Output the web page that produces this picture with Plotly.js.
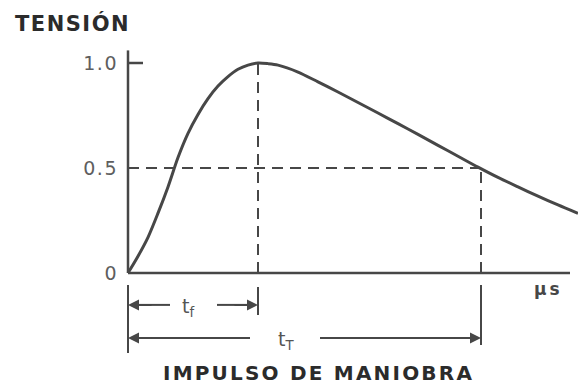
<!DOCTYPE html>
<html>
<head>
<meta charset="utf-8">
<script src="https://cdn.plot.ly/plotly-3.0.1.min.js"></script>
<style>
html,body{margin:0;padding:0;background:#fff;}
#chart{width:578px;height:387px;}
text[data-unformatted="TENSIÓN"]{letter-spacing:1.5px;}
text[data-unformatted="IMPULSO DE MANIOBRA"]{letter-spacing:2.2px;}
text[data-unformatted="µs"]{letter-spacing:3px;}
.ytick text{letter-spacing:1.5px;}
</style>
</head>
<body>
<div id="chart"></div>
<script>
// Switching impulse waveform (normalised voltage vs time, arbitrary µs units)
const timeUs  = [0, 1, 2, 3, 4, 5, 6, 7, 8, 9, 10, 11, 12, 13, 14, 15, 17, 19, 21, 23, 25, 27, 29, 31, 33, 35, 37, 39, 41, 43, 45];
const voltage = [0, 0.08, 0.17, 0.285, 0.41, 0.55, 0.665, 0.755, 0.83, 0.89, 0.935, 0.97, 0.99, 1.0, 0.997, 0.99, 0.957, 0.91, 0.862, 0.812, 0.762, 0.711, 0.66, 0.608, 0.556, 0.504, 0.455, 0.41, 0.366, 0.324, 0.284];

const tickVals   = [0, 0.5, 1.0];
const tickLabels = ['0', '0.5', '1.0'];

const tFront = 13.0;   // time to crest
const tTail  = 35.3;   // time to half value
const halfValue = 0.5;
const crestValue = 1.0;
const xAxisEnd = 44.2;
const yAxisTop = 1.06;

const yLabel = 'TENSIÓN';
const xUnit  = 'µs';
const caption = 'IMPULSO DE MANIOBRA';
const frontLabel = 't<sub>f</sub>';
const tailLabel  = 't<sub>T</sub>';

const ink = '#474747';
const grey = '#555555';

const solid = (x0, y0, x1, y1, w) => ({type:'line', xref:'x', yref:'y', x0, y0, x1, y1,
  line:{color:ink, width:w || 2.5}});
const dashed = (x0, y0, x1, y1) => ({type:'line', xref:'x', yref:'y', x0, y0, x1, y1,
  line:{color:ink, width:2, dash:'11px,7px'}});

const yDimF = -0.152, yDimT = -0.31;

const shapes = [
  solid(0, 0, 0, yAxisTop),
  solid(0, crestValue, 1.5, crestValue),
  solid(0, 0, xAxisEnd, 0),
  dashed(tFront, 0, tFront, crestValue),
  dashed(0, halfValue, tTail, halfValue),
  dashed(tTail, 0, tTail, halfValue),
  solid(0, -0.057, 0, -0.381, 2),
  solid(tFront, -0.067, tFront, -0.2, 2),
  solid(tTail, -0.057, tTail, -0.343, 2),
  solid(1.0, yDimF, 4.2, yDimF, 2),
  solid(8.9, yDimF, 12.0, yDimF, 2),
  solid(1.0, yDimT, 12.2, yDimT, 2),
  solid(19.2, yDimT, 34.3, yDimT, 2)
];

const arrow = (xh, yh, xt) => ({x:xh, y:yh, ax:xt, ay:yh, xref:'x', yref:'y', axref:'x', ayref:'y',
  text:'', showarrow:true, arrowhead:2, arrowsize:1.1, arrowwidth:2, arrowcolor:ink, standoff:0});

const annotations = [
  arrow(0, yDimF, 2.5), arrow(tFront, yDimF, 10.5),
  arrow(0, yDimT, 2.5), arrow(tTail, yDimT, 32.5),
  {x:6.0, y:yDimF - 0.01, xref:'x', yref:'y', text:frontLabel, showarrow:false,
   font:{family:'DejaVu Sans, sans-serif', size:19, color:grey}, yanchor:'middle'},
  {x:15.8, y:yDimT - 0.01, xref:'x', yref:'y', text:tailLabel, showarrow:false,
   font:{family:'DejaVu Sans, sans-serif', size:19, color:grey}, yanchor:'middle'},
  {x:42.0, y:-0.075, xref:'x', yref:'y', text:xUnit, showarrow:false,
   font:{family:'DejaVu Sans, sans-serif', size:17, color:ink, weight:'bold'}},
  {x:-5.6, y:1.187, xref:'x', yref:'y', text:yLabel, showarrow:false,
   font:{family:'DejaVu Sans, sans-serif', size:21, color:'#2b2b2b', weight:'bold'}},
  {x:19.0, y:-0.538, xref:'x', yref:'y', yanchor:'bottom', text:caption, showarrow:false,
   borderpad:0,
   font:{family:'DejaVu Sans, sans-serif', size:20, color:'#2b2b2b', weight:'bold'}}
];

const trace = {
  x: timeUs, y: voltage, type:'scatter', mode:'lines',
  line:{color:ink, width:3, shape:'spline', smoothing:0.8},
  hoverinfo:'skip', showlegend:false, cliponaxis:false
};

const layout = {
  width:578, height:387,
  margin:{l:0, r:0, t:0, b:0},
  paper_bgcolor:'#ffffff', plot_bgcolor:'#ffffff',
  xaxis:{range:[-12.8, 45], visible:false, fixedrange:true},
  yaxis:{range:[-0.543, 1.3], anchor:'free', position:128/578,
    tickvals:tickVals, ticktext:tickLabels, ticks:'', showline:false,
    showgrid:false, zeroline:false, ticklabelstandoff:10,
    tickfont:{family:'DejaVu Sans, sans-serif', size:19, color:'#5e5e5e'},
    fixedrange:true},
  shapes, annotations, showlegend:false
};

Plotly.newPlot('chart', [trace], layout, {staticPlot:true, displayModeBar:false});
</script>
</body>
</html>
